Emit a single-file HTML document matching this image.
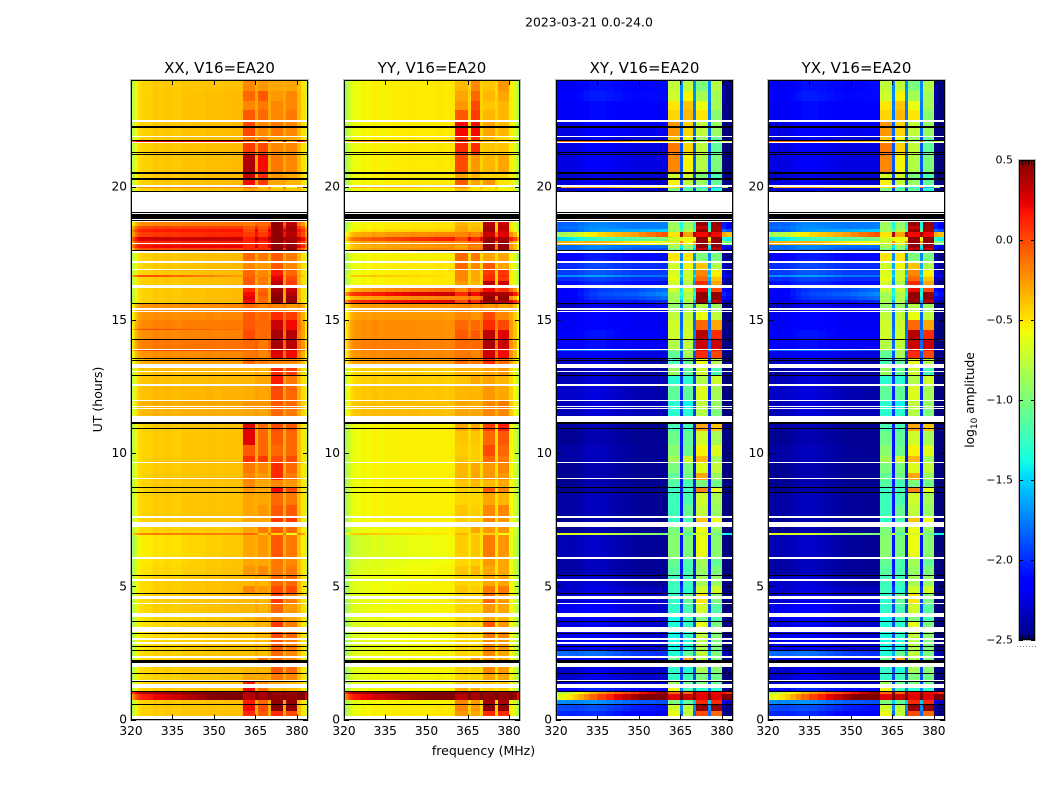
<!DOCTYPE html>
<html>
<head>
<meta charset="utf-8">
<title>2023-03-21 0.0-24.0</title>
<style>
html,body{margin:0;padding:0;background:#fff;}
svg{display:block;}
text{font-family:"DejaVu Sans","Liberation Sans",sans-serif;fill:#000;}
</style>
</head>
<body>
<svg id="figure" xmlns="http://www.w3.org/2000/svg" width="1050" height="800" viewBox="0 0 1050 800">
<text x="589" y="26.5" text-anchor="middle" font-size="12.4">2023-03-21 0.0-24.0</text>
<text x="0" y="0" transform="translate(102,399.5) rotate(-90)" text-anchor="middle" font-size="12.5">UT (hours)</text>
<text x="483.5" y="755" text-anchor="middle" font-size="12.5">frequency (MHz)</text>
<text x="0" y="0" transform="translate(974,400) rotate(-90)" text-anchor="middle" font-size="12.2">log<tspan font-size="9" dy="3">10</tspan><tspan dy="-3"> amplitude</tspan></text>
</svg>
<script>
// Axis tick values and labels
const xTicks = [320, 335, 350, 365, 380];
const yTicks = [0, 5, 10, 15, 20];
const colorTicks = [0.5, 0, -0.5, -1, -1.5, -2, -2.5];
const colorTickLabels = ["0.5", "0.0", "\u22120.5", "\u22121.0", "\u22121.5", "\u22122.0", "\u22122.5"];
const panelTitles = ["XX, V16=EA20", "YY, V16=EA20", "XY, V16=EA20", "YX, V16=EA20"];

// Frequency channel edges (MHz)
const channelEdges = [320,320.7,321.4,322.1,323,324,326,328,330,332,335,338,341,344,347,350,353,356,358.5,360.5,365,366,369.5,370.6,375,376,380,381.5,383,384];
// Column of a row record each channel reads: 0 continuum, 2..5 bands B1..B4, -1 gap between bands
const channelSource = [0,0,0,0,0,0,0,0,0,0,0,0,0,0,0,0,0,0,0,2,-1,3,-1,4,-1,5,0,0,0];

// Per-channel offset (log10 amplitude) on continuum channels
const xxRipple = [-.38,-.28,-.16,-.08,-.04,-.02,-.02,.01,-.01,.01,-.01,.01,.01,.01,.02,.01,.02,.02,.02,0,0,0,0,0,0,0,.02,-.1,-.35];
const yyRipple = [-.38,-.3,-.2,-.1,-.06,-.03,-.01,-.02,.01,-.01,.01,.01,.01,.02,.01,.01,.02,.01,.02,0,0,0,0,0,0,0,-.02,-.15,-.38];
const xyRipple = [.05,0,0,0,0,0,0,.03,.06,.08,.08,.06,.04,.02,0,0,0,0,0,0,0,0,0,0,0,0,-.3,-.4,-.4];
const gapOffset = [.08, .08, .38, .38];

// UT hour at the top of each time row (final entry closes the last row)
const utRowTops = [24,23.58,23.21,22.87,22.42,21.86,21.73,21.67,21.18,20.51,20.28,20,19.94,19.81,18.67,18.52,18.41,18.29,18.1,17.96,17.8,17.69,17.58,17.17,16.9,16.68,16.62,16.45,16.27,16.19,16.04,15.89,15.74,15.63,15.29,14.99,14.65,14.62,14.27,13.9,13.82,13.56,13.34,13.19,12.93,12.55,11.99,11.69,11.39,11.09,10.83,10.3,9.89,9.62,9.25,8.99,8.72,8.54,8.05,7.64,7.41,7.22,7,6.94,6.06,5.76,5.42,5.01,4.75,4.37,3.96,3.7,3.28,3.02,2.61,2.31,1.97,1.74,1.44,1.18,1.03,.96,.75,.58,.32,.14,0];

// Row records: [continuum left, continuum right, B1, B2, B3, B4]; null means no data
const xxRows = [
[-.42,-.4,-.2,-.25,-.3,-.3],[-.42,-.38,-.1,-.05,-.25,-.2],[-.42,-.38,-.2,-.15,-.2,-.2],[-.42,-.38,-.05,-.1,-.2,-.15],
[-.42,-.38,0,-.2,-.15,-.2],[-.42,-.38,-.15,-.2,-.3,-.3],[.25,.2,-.1,-.3,-.3,-.3],[-.42,-.38,.05,0,-.2,-.2],
[-.42,-.38,.38,.2,-.15,-.2],[-.42,-.38,.3,.1,-.25,-.3],[-.42,-.38,.2,.05,-.3,-.35],[-.2,-.2,-.1,-.4,-.5,-.6],
[-.42,-.4,-.3,-.35,-.4,-.4],null,[-.2,-.15,-.15,-.1,.45,.35],[.02,.02,-.05,-.05,.45,.4],
[.15,.15,0,0,.45,.4],[.05,.1,.05,.05,.45,.35],[.3,.3,.15,.2,.45,.4],[.12,.12,.1,.1,.45,.4],
[.2,.2,.1,.1,.45,.45],[0,0,.1,.1,.45,.45],[-.42,-.38,-.1,-.15,-.05,-.15],[-.42,-.38,-.2,-.25,-.05,-.2],
[-.42,-.38,-.1,-.2,.15,-.1],[.05,-.3,-.1,-.2,.2,-.05],[-.42,-.38,-.05,-.15,.25,0],[-.42,-.38,-.05,-.15,.35,.05],
null,[-.42,-.38,.1,-.1,.4,.3],[-.42,-.38,.2,-.05,.45,.35],[-.42,-.38,.25,-.1,.48,.42],
[-.42,-.38,.2,-.1,.48,.45],[-.22,-.22,-.1,-.2,-.2,-.25],[-.22,-.22,-.05,-.1,.1,.05],[-.18,-.18,-.05,-.1,.3,.2],
[.05,-.15,-.05,-.1,.3,.2],[-.2,-.2,0,-.1,.4,.35],[-.15,-.15,-.1,-.15,.4,.35],[.02,-.05,-.1,-.15,.3,.25],
[-.22,-.22,-.15,-.2,.25,.2],[-.3,-.3,-.1,-.15,-.2,-.2],null,[-.38,-.38,-.35,-.35,.1,.05],
[-.38,-.38,-.35,-.3,.15,-.15],[-.36,-.36,-.32,-.3,0,-.1],[-.32,-.32,-.25,-.25,-.05,-.1],[-.34,-.34,-.3,-.3,-.1,-.15],
null,[-.42,-.4,.25,-.1,0,-.05],[-.42,-.4,.25,-.1,-.05,-.1],[-.42,-.4,-.05,-.1,-.1,-.1],
[-.42,-.4,.08,.05,0,0],[-.42,-.4,-.15,-.2,.1,-.1],[-.42,-.4,-.2,-.25,.1,-.15],[-.42,-.4,-.2,-.3,-.2,-.25],
[-.42,-.4,-.25,-.3,.2,0],[-.42,-.4,-.3,-.3,-.1,-.15],[-.42,-.4,-.3,-.25,-.05,-.05],[-.42,-.4,-.3,-.3,.05,.05],
null,[-.45,-.42,-.3,-.15,-.05,-.1],[-.15,-.2,-.1,-.4,-.45,-.6],[-.52,-.42,-.3,-.25,-.05,-.15],
[-.5,-.4,-.3,-.3,-.15,-.2],[-.48,-.4,-.25,-.2,-.15,-.15],[-.45,-.38,-.35,-.35,-.1,-.1],[-.45,-.38,-.2,-.25,0,0],
[-.45,-.38,-.35,-.35,.05,-.15],[-.45,-.38,-.35,-.35,-.1,-.25],[-.48,-.4,-.35,-.3,-.2,-.3],[-.48,-.4,-.4,-.35,.05,-.15],
[-.48,-.4,-.4,-.35,0,-.1],[-.48,-.4,-.38,-.38,-.05,-.15],[-.45,-.4,-.38,-.38,-.1,-.2],[-.45,-.4,-.35,-.1,-.1,-.2],
[-.45,-.4,-.35,-.35,-.05,-.1],[-.45,-.4,-.3,-.3,-.15,-.2],[-.45,-.4,.15,-.2,-.3,-.35],[-.42,-.4,.2,-.1,-.35,-.35],
[.35,.6,.4,.4,.45,.45],[.1,.6,.35,.4,.45,.45],[-.42,-.4,.15,-.1,.45,.45],[-.42,-.4,.2,0,.48,.45],
[-.42,-.4,.1,-.05,.1,0],null];

const yyRows = [
[-.55,-.52,-.35,-.2,-.4,-.25],[-.55,-.52,-.3,-.1,-.35,-.3],[-.55,-.52,-.25,0,-.4,-.35],[-.55,-.52,-.05,.05,-.35,-.35],
[-.55,-.52,.2,.2,-.3,-.35],[-.55,-.52,.1,.1,-.35,-.45],[-.15,-.3,.1,-.3,-.4,-.5],[-.55,-.52,.1,.1,-.4,-.4],
[-.55,-.52,0,-.25,-.35,-.3],[-.55,-.52,-.3,-.35,-.45,-.45],[-.55,-.52,-.05,-.3,-.25,-.5],[-.3,-.4,-.2,-.5,-.5,-.7],
[-.55,-.55,-.4,-.5,-.5,-.55],null,[-.55,-.5,-.35,-.4,.35,.3],[-.55,-.5,-.3,-.35,.4,.35],
[-.5,-.45,-.3,-.35,.4,.3],[-.3,-.2,-.2,-.2,.3,.25],[-.1,.15,0,.1,.45,.4],[-.3,-.2,-.2,-.1,.45,.45],
[-.35,-.25,-.3,-.2,.45,.45],[-.3,-.2,-.25,-.15,.45,.45],[-.55,-.55,-.1,-.15,-.3,-.3],[-.55,-.52,-.1,-.2,-.05,-.3],
[-.55,-.52,-.2,-.3,.05,.05],[-.35,-.52,-.2,-.3,.1,.1],[-.55,-.52,-.2,-.3,.1,.05],[-.55,-.52,-.25,-.35,.35,.3],
null,[-.3,-.1,-.2,-.1,.2,.1],[.1,.3,.1,.2,.4,.4],[-.3,-.2,-.2,-.2,.45,.45],
[.1,.25,0,.1,.45,.4],[-.25,-.25,-.2,-.25,-.25,-.3],[-.25,-.28,-.2,-.25,0,-.2],[-.2,-.25,-.1,-.1,.1,0],
[-.2,-.25,-.1,-.15,.1,0],[-.2,-.25,-.05,-.05,.35,.25],[-.15,-.2,-.1,-.1,.4,.3],[-.2,-.22,-.15,-.2,.3,.2],
[-.2,-.22,-.15,-.2,.3,.2],[-.25,-.3,-.1,-.15,.1,-.1],null,[-.42,-.45,-.35,-.35,-.3,-.25],
[-.42,-.45,-.4,-.3,-.3,-.35],[-.38,-.42,-.35,-.35,-.25,-.3],[-.36,-.4,-.3,-.32,-.2,-.15],[-.35,-.4,-.3,-.3,-.2,-.2],
null,[-.55,-.55,-.3,-.3,.05,.15],[-.55,-.55,-.4,-.4,-.1,-.05],[-.55,-.55,-.42,-.42,0,-.1],
[-.55,-.55,-.4,-.42,-.1,-.15],[-.55,-.55,-.35,-.3,-.25,-.2],[-.55,-.55,-.35,-.3,-.25,-.25],[-.55,-.55,-.4,-.35,-.35,-.3],
[-.55,-.55,-.42,-.42,-.05,-.2],[-.55,-.55,-.45,-.45,-.3,-.35],[-.55,-.55,-.4,-.42,-.2,-.2],[-.55,-.55,-.42,-.42,-.2,-.25],
null,[-.6,-.55,-.45,-.3,-.25,-.25],[-.35,-.55,-.35,-.45,-.45,-.6],[-.68,-.58,-.42,-.4,-.15,-.25],
[-.66,-.58,-.45,-.42,-.25,-.3],[-.64,-.56,-.4,-.35,-.3,-.3],[-.6,-.55,-.45,-.45,-.3,-.3],[-.6,-.55,-.4,-.42,-.15,-.15],
[-.6,-.55,-.45,-.45,-.1,-.25],[-.6,-.55,-.45,-.45,-.25,-.3],[-.62,-.56,-.45,-.42,-.3,-.35],[-.62,-.56,-.45,-.45,-.05,-.25],
[-.62,-.56,-.45,-.45,-.15,-.2],[-.62,-.56,-.45,-.45,-.2,-.25],[-.6,-.56,-.45,-.45,-.2,-.3],[-.6,-.56,-.45,-.25,-.25,-.3],
[-.6,-.56,-.45,-.45,-.2,-.25],[-.6,-.56,-.45,-.45,-.3,-.3],[-.6,-.56,-.4,-.4,-.4,-.4],[-.58,-.56,-.3,-.3,-.42,-.42],
[.4,.6,.45,.45,.45,.45],[.15,.6,.35,.4,.45,.45],[-.58,-.55,-.2,-.25,.4,.4],[-.55,-.52,-.2,-.25,.47,.45],
[-.55,-.52,-.25,-.3,.1,.1],null];

const xyRows = [
[-2.2,-2.1,-.75,-.75,-1,-.8],[-2.15,-2.1,-.7,-.55,-.85,-.85],[-2.2,-2.15,-.5,-.4,-.6,-.85],[-2.2,-2.15,-.45,-.35,-.5,-.95],
[-2.25,-2.2,-.25,-.45,-.75,-.9],[-2.3,-2.3,-.4,-.6,-.9,-1.1],[-.1,-.4,-.5,-1,-.9,-1.1],[-2.25,-2.25,-.15,-.45,-.75,-1.1],
[-2.25,-2.25,-.2,-.55,-.8,-1],[-2.3,-2.3,-.7,-.7,-1,-1.2],[-2.25,-2.3,-.55,-.75,-.9,-1.1],[-.25,-.5,-.5,-1.3,-1.4,-1.6],
[-2.3,-2.3,-1,-1.1,-1.1,-1.3],null,[-1.85,-1.75,-.9,-.9,.45,.45],[-1.8,-1.75,-.85,-.9,.3,.4],
[-1.9,-1.5,-.9,-.8,.45,.4],[-.9,0,-.5,-.3,.2,.2],[-1.5,-1,-.7,-.6,.45,.45],[-.3,-.6,-.7,-.6,.45,.45],
[-1.8,-1.8,-.85,-.9,.45,.45],[-1.8,-1.9,-1,-1,.3,.3],[-2.15,-2.1,-.5,-.5,-1,-1],[-2,-2,-.7,-.55,-.4,-.8],
[-1.95,-1.95,-.65,-.7,-.2,-.55],[-1.7,-1.8,-.65,-.7,-.15,-.5],[-2,-2,-.6,-.7,-.1,-.4],[-2.1,-2.1,-.7,-.8,.1,-.3],
null,[-2.2,-1.8,-.7,-.7,.2,0],[-2.2,-1.7,-.85,-.8,.45,.45],[-2.2,-1.8,-.85,-.8,.45,.45],
[-2.25,-2,-.85,-.8,.45,.35],[-2.35,-2.2,-.9,-.9,-.8,-.9],[-2.2,-2.2,-.75,-.75,-.6,-.75],[-2.2,-2.2,-.7,-.7,-.1,-.3],
[-2.2,-2.2,-.7,-.7,-.1,-.3],[-2.15,-2.15,-.7,-.7,.35,.1],[-2.15,-2.2,-.8,-.75,.3,.3],[-1.8,-1.9,-.9,-.8,.2,.15],
[-2.2,-2.25,-1.1,-.85,.1,0],[-2.3,-2.4,-1.2,-1.1,-.6,-.8],null,[-2.4,-2.4,-.9,-1.1,-.7,-1.2],
[-2.35,-2.35,-1.3,-1.3,-.8,-.7],[-2.3,-2.4,-1.1,-1.1,-.65,-.85],[-2.35,-2.35,-1.3,-1.4,-.75,-.9],[-2.35,-2.35,-1.3,-1.3,-.8,-1],
null,[-2.4,-2.45,-1.2,-1.2,-.3,-.4],[-2.45,-2.45,-1.05,-1.1,-.7,-.85],[-2.4,-2.45,-.95,-1.05,-.55,-.65],
[-2.4,-2.45,-.85,-.7,-.35,-.85],[-2.45,-2.45,-1,-1,-.65,-.75],[-2.45,-2.45,-1.1,-1.05,-.3,-.9],[-2.45,-2.45,-1.15,-1.2,-1,-1.05],
[-2.45,-2.45,-1.25,-1.2,-.2,-.6],[-2.4,-2.45,-1.23,-1.18,-.7,-.85],[-2.4,-2.45,-1.23,-1.08,-.75,-.9],[-2.45,-2.45,-1.28,-1.18,-.4,-.6],
null,[-2.45,-2.45,-1,-1,-.6,-.9],[-.6,-1,-1,-1.2,-.7,-1.1],[-2.35,-2.45,-.95,-1,-.6,-.95],
[-2.4,-2.45,-1.08,-1.18,-.85,-1.1],[-2.4,-2.45,-1.13,-1.18,-.9,-1],[-2.3,-2.45,-1.23,-1.23,-.85,-.9],[-2.3,-2.35,-1.23,-1.28,-.7,-.7],
[-2.3,-2.3,-1.28,-1.08,-.5,-1],[-2.2,-2.3,-1.28,-1.18,-.7,-1.15],[-2.2,-2.3,-1.38,-1.23,-1,-1.2],[-2.25,-2.3,-1.33,-1.28,-.6,-1],
[-2.2,-2.3,-1.38,-1.28,-.75,-.95],[-2.2,-2.3,-1.38,-1.33,-.8,-1],[-1.8,-2,-1.33,-1.08,-.75,-1],[-2.2,-2.3,-1.08,-.3,-.8,-1],
[-2.3,-2.3,-1.28,-1.33,-.85,-.95],[-2.3,-2.3,-1.28,-1.23,-1,-1.05],[-2.3,-2.3,-.88,-1.08,-1,-1.1],[-2.1,-2.1,-.6,-1.2,-1.3,-1.3],
[-.9,.5,-.1,-.1,.2,.2],[-.7,.9,.25,.3,.25,.25],[-1.7,-1.9,-1,-1.1,.1,.1],[-1.9,-2.1,-.7,-.75,.45,.45],
[-2,-2.2,-.6,-.75,0,-.1],null];

const yxRows = xyRows;
const panelRows = [xxRows, yyRows, xyRows, yxRows];
const panelRipple = [xxRipple, yyRipple, xyRipple, xyRipple];

// Time ranges (UT hours, top then bottom) with missing samples, drawn white
const missingRanges = [[22.5,22.42],[21.9,21.86],[21.69,21.64],[20.05,20],[19.81,19.04],[18.73,18.67],[17.88,17.84],[17.57,17.52],[17.22,17.14],[16.9,16.86],[16.29,16.19],[15.43,15.36],[15.33,15.28],[13.92,13.88],[13.35,13.19],[13.08,13.04],[12.6,12.52],[11.99,11.95],[11.78,11.74],[11.69,11.65],[11.39,11.19],[9.66,9.62],[9.06,9.02],[7.64,7.56],[7.41,7.22],[6.08,6.04],[5.27,5.2],[4.65,4.62],[4.58,4.54],[4.39,4.35],[3.98,3.85],[3.47,3.28],[3.04,3],[2.89,2.85],[2.38,2.31],[2.12,1.97],[1.48,1.43],[1.33,1.18],[.13,0]];
// Time ranges (UT hours) of flagged samples, drawn black
const flaggedRanges = [[22.29,22.25],[22.23,22.2],[21.74,21.7],[21.29,21.26],[21.22,21.18],[20.56,20.47],[20.34,20.24],[19.85,19.81],[19.04,19],[18.97,18.8],[18.76,18.71],[17.62,17.58],[15.63,15.59],[14.27,14.24],[13.58,13.55],[13.49,13.45],[12.93,12.89],[11.18,11.09],[10.94,10.9],[8.72,8.69],[8.54,8.5],[5.42,5.38],[4.75,4.71],[3.7,3.66],[3.26,3.23],[2.76,2.72],[2.61,2.57],[2.25,2.12],[1.74,1.71],[1.44,1.41],[1.07,1.03],[.58,.54]];

// Layout
const panelLeft = [131, 344, 556, 768];
const panelRight = [308, 520, 733, 945];
const plotTop = 80, plotBottom = 719.5;
const freqMin = 320, freqMax = 384, utMin = 0, utMax = 24;
const cbarLeft = 1019, cbarRight = 1035, cbarTop = 160, cbarBottom = 640, valMin = -2.5, valMax = 0.5;

const svg = document.getElementById('figure');
const NS = 'http://www.w3.org/2000/svg';
function mk(parent, tag, attrs) {
  const el = document.createElementNS(NS, tag);
  for (const k in attrs) el.setAttribute(k, attrs[k]);
  parent.appendChild(el);
  return el;
}
function xScale(p, f) { return panelLeft[p] + (f - freqMin) / (freqMax - freqMin) * (panelRight[p] - panelLeft[p]); }
function yScale(t) { return plotBottom - (t - utMin) / (utMax - utMin) * (plotBottom - plotTop); }
function cbarScale(v) { return cbarBottom - (v - valMin) / (valMax - valMin) * (cbarBottom - cbarTop); }
function interp(points, x) {
  for (let i = 1; i < points.length; i++) {
    if (x <= points[i][0]) {
      const a = points[i - 1], b = points[i];
      return a[1] + (x - a[0]) / (b[0] - a[0]) * (b[1] - a[1]);
    }
  }
  return points[points.length - 1][1];
}
const jetR = [[0,0],[.35,0],[.66,1],[.89,1],[1,.5]];
const jetG = [[0,0],[.125,0],[.375,1],[.64,1],[.91,0],[1,0]];
const jetB = [[0,.5],[.11,1],[.34,1],[.65,0],[1,0]];
function jet(v) {
  const s = Math.max(0, Math.min(1, (v - valMin) / (valMax - valMin)));
  const c = a => Math.round(255 * interp(a, s));
  return 'rgb(' + c(jetR) + ',' + c(jetG) + ',' + c(jetB) + ')';
}
function cellValue(p, row, ch) {
  const src = channelSource[ch];
  const mid = (channelEdges[ch] + channelEdges[ch + 1]) / 2;
  const w = Math.min(1, (mid - freqMin) / 40.5);
  const cont = row[0] + (row[1] - row[0]) * w;
  if (src === -1) return cont + gapOffset[p];
  if (src === 0) return cont + panelRipple[p][ch];
  return row[src];
}

panelTitles.forEach(function (title, p) {
  const g = mk(svg, 'g', {});
  
  
  const x0 = panelLeft[p], x1 = panelRight[p], w = x1 - x0;

  const cells = mk(g, 'g', { 'shape-rendering': 'crispEdges' });
  
  
  const rows = panelRows[p];
  rows.forEach(function (row, r) {
    if (!row) return;
    const yA = Math.round(yScale(utRowTops[r]));
    const yB = Math.max(yA + 1, Math.round(yScale(utRowTops[r + 1])));
    for (let ch = 0; ch < channelSource.length; ch++) {
      const xA = Math.round(xScale(p, channelEdges[ch])), xB = Math.round(xScale(p, channelEdges[ch + 1]));
      const cell = mk(cells, 'rect', { x: xA, y: yA, width: xB - xA, height: yB - yA, fill: jet(cellValue(p, row, ch)) });
      
      
    }
  });

  missingRanges.forEach(function (m) {
    const yA = Math.round(yScale(m[0]));
    const yB = Math.max(yA + 1, Math.round(yScale(m[1])));
    const gap = mk(g, 'rect', { x: x0, y: yA, width: w, height: yB - yA, fill: '#fff', 'shape-rendering': 'crispEdges' });
    
    
  });
  flaggedRanges.forEach(function (m) {
    const yA = Math.round(yScale(m[0]));
    const yB = Math.max(yA + 1, Math.round(yScale(m[1])));
    const flag = mk(g, 'rect', { x: x0, y: yA, width: w, height: yB - yA, fill: '#000', 'shape-rendering': 'crispEdges' });
    
    
  });

  const halo = mk(g, 'rect', { x: x0 - 0.5, y: plotTop - 0.5, width: w + 1, height: 641, fill: 'none', stroke: '#bbb', 'stroke-width': 1 });
  
  
  const frame = mk(g, 'rect', { x: x0 + 0.5, y: plotTop + 0.5, width: w - 1, height: 639, fill: 'none', stroke: '#000', 'stroke-width': 1 });
  
  

  const titleEl = mk(g, 'text', { x: (x0 + x1) / 2, y: 73, 'text-anchor': 'middle', 'font-size': 15 });
  
  
  titleEl.textContent = title;

  xTicks.forEach(function (v) {
    const x = Math.round(xScale(p, v)) + 0.5;
    const tickB = mk(g, 'line', { x1: x, x2: x, y1: plotBottom, y2: plotBottom - 5, stroke: '#000' });
    
    
    const tickT = mk(g, 'line', { x1: x, x2: x, y1: plotTop, y2: plotTop + 5, stroke: '#000' });
    
    
    const lab = mk(g, 'text', { x: xScale(p, v), y: 735, 'text-anchor': 'middle', 'font-size': 12.2 });
    
    
    lab.textContent = v;
  });
  yTicks.forEach(function (v) {
    const y = Math.round(yScale(v)) + 0.5;
    const tickL = mk(g, 'line', { x1: x0, x2: x0 + 5, y1: y, y2: y, stroke: '#000' });
    
    
    const tickR = mk(g, 'line', { x1: x1, x2: x1 - 5, y1: y, y2: y, stroke: '#000' });
    
    
    const lab = mk(g, 'text', { x: x0 - 4, y: yScale(v) + 4, 'text-anchor': 'end', 'font-size': 12.2 });
    
    
    lab.textContent = v;
  });
});

// Colorbar
const cbar = mk(svg, 'g', {});


const cbarRamp = mk(cbar, 'g', { 'shape-rendering': 'crispEdges' });


for (let py = cbarTop; py < cbarBottom; py += 2) {
  const val = valMax - (py + 1 - cbarTop) / (cbarBottom - cbarTop) * (valMax - valMin);
  const seg = mk(cbarRamp, 'rect', { x: cbarLeft, y: py, width: cbarRight - cbarLeft, height: 2, fill: jet(val) });
  
  
}
const cbarHalo = mk(cbar, 'rect', { x: cbarLeft - 0.5, y: cbarTop - 0.5, width: cbarRight - cbarLeft + 1, height: cbarBottom - cbarTop + 1, fill: 'none', stroke: '#bbb' });


const cbarFrame = mk(cbar, 'rect', { x: cbarLeft + 0.5, y: cbarTop + 0.5, width: cbarRight - cbarLeft - 1, height: cbarBottom - cbarTop - 1, fill: 'none', stroke: '#000' });


colorTicks.forEach(function (v, i) {
  const y = Math.round(cbarScale(v)) + 0.5;
  const tickA = mk(cbar, 'line', { x1: cbarLeft, x2: cbarLeft + 4, y1: y, y2: y, stroke: '#000' });
  
  
  const tickB = mk(cbar, 'line', { x1: cbarRight, x2: cbarRight - 4, y1: y, y2: y, stroke: '#000' });
  
  
  const lab = mk(cbar, 'text', { x: 1013, y: cbarScale(v) + 3.5, 'text-anchor': 'end', 'font-size': 11 });
  
  
  lab.textContent = colorTickLabels[i];
});
for (let px = cbarLeft + 3.5; px < cbarRight - 2; px += 3) {
  const markT = mk(cbar, 'line', { x1: px, x2: px, y1: cbarTop, y2: cbarTop + 5, stroke: '#000' });
  
  
  const markB = mk(cbar, 'line', { x1: px, x2: px, y1: cbarBottom, y2: cbarBottom - 5, stroke: '#000' });
  
  
}
for (let px = 1017; px < 1036; px += 3) {
  const dot = mk(cbar, 'rect', { x: px, y: 646, width: 1, height: 1, fill: '#888', 'shape-rendering': 'crispEdges' });
  
  
}
</script>
</body>
</html>
